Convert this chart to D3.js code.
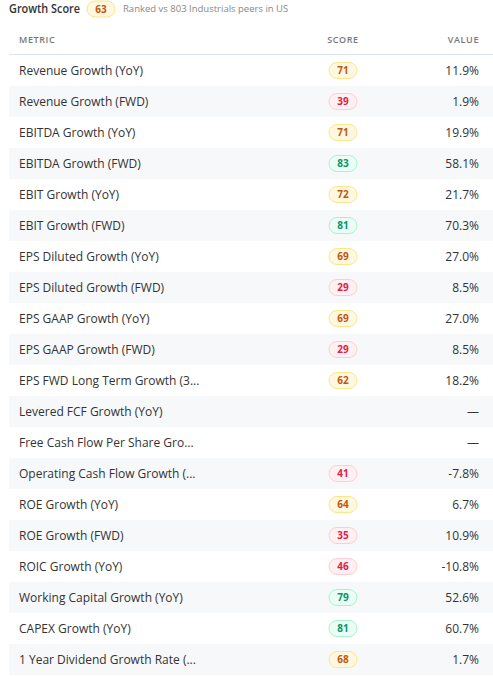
<!DOCTYPE html>
<html><head><meta charset="utf-8">
<script src="https://cdn.jsdelivr.net/npm/d3@7"></script>
<style>body{margin:0;background:#fff;font-family:"Open Sans",sans-serif}</style>
</head><body><svg id="chart" width="493" height="679"></svg>
<script>
const metrics = ["Revenue Growth (YoY)","Revenue Growth (FWD)","EBITDA Growth (YoY)","EBITDA Growth (FWD)","EBIT Growth (YoY)","EBIT Growth (FWD)","EPS Diluted Growth (YoY)","EPS Diluted Growth (FWD)","EPS GAAP Growth (YoY)","EPS GAAP Growth (FWD)","EPS FWD Long Term Growth (3...","Levered FCF Growth (YoY)","Free Cash Flow Per Share Gro...","Operating Cash Flow Growth (...","ROE Growth (YoY)","ROE Growth (FWD)","ROIC Growth (YoY)","Working Capital Growth (YoY)","CAPEX Growth (YoY)","1 Year Dividend Growth Rate (..."];
const scores = [71,39,71,83,72,81,69,29,69,29,62,null,null,41,64,35,46,79,81,68];
const values = ["11.9%","1.9%","19.9%","58.1%","21.7%","70.3%","27.0%","8.5%","27.0%","8.5%","18.2%","—","—","-7.8%","6.7%","10.9%","-10.8%","52.6%","60.7%","1.7%"];
const overallScore = 63;

// badge colours by score band
const badge = s => s >= 75 ? {bg:"#ecfdf5",bd:"#a7f3d0",fg:"#059669"}
  : s >= 50 ? {bg:"#fff8e1",bd:"#fde68a",fg:"#c2570c"}
  : {bg:"#fff1f2",bd:"#fecdd3",fg:"#e11d48"};

const svg = d3.select("#chart");
const y = d3.scaleBand().domain(d3.range(metrics.length)).range([55, 55 + 31*metrics.length]);
const left = 9, right = 493, scoreX = 343, valX = 479;

// title
svg.append("text").attr("x",9).attr("y",13).attr("font-size",12).attr("font-weight",600).attr("fill","#333")
  .attr("textLength",71).attr("lengthAdjust","spacingAndGlyphs").text("Growth Score");
const tb = badge(overallScore);
svg.append("rect").attr("x",87).attr("y",1).attr("width",28).attr("height",16).attr("rx",8).attr("fill",tb.bg).attr("stroke",tb.bd);
svg.append("text").attr("x",101).attr("y",13).attr("text-anchor","middle").attr("font-size",10).attr("font-weight",700).attr("fill",tb.fg).text(overallScore);
svg.append("text").attr("x",123).attr("y",12).attr("font-size",9.5).attr("fill","#888").text("Ranked vs 803 Industrials peers in US");

// header
const hdr = svg.append("g").attr("font-size",9).attr("font-weight",600).attr("fill","#777").attr("letter-spacing","0.6");
hdr.append("text").attr("x",19).attr("y",43).text("METRIC");
hdr.append("text").attr("x",scoreX).attr("y",43).attr("text-anchor","middle").text("SCORE");
hdr.append("text").attr("x",valX).attr("y",43).attr("text-anchor","end").text("VALUE");
svg.append("line").attr("x1",left).attr("x2",right).attr("y1",54.5).attr("y2",54.5).attr("stroke","#dde3ec");

const rows = svg.selectAll("g.row").data(metrics).join("g").attr("class","row")
  .attr("transform",(d,i)=>`translate(0,${y(i)})`);
rows.append("rect").attr("x",left).attr("width",right-left).attr("height",y.bandwidth())
  .attr("fill",(d,i)=> i%2 ? "#f7f8fa" : "#fff");
const mid = y.bandwidth()/2;
rows.append("text").attr("x",19).attr("y",mid+4).attr("font-size",12).attr("fill","#333").text(d=>d);
rows.append("text").attr("x",valX).attr("y",mid+4).attr("text-anchor","end").attr("font-size",12).attr("fill","#333").text((d,i)=>values[i]);
const b = rows.filter((d,i)=>scores[i]!=null);
b.append("rect").attr("x",scoreX-14).attr("y",mid-8).attr("width",28).attr("height",16).attr("rx",8)
  .attr("fill",(d)=>badge(scores[metrics.indexOf(d)]).bg).attr("stroke",(d)=>badge(scores[metrics.indexOf(d)]).bd);
b.append("text").attr("x",scoreX).attr("y",mid+3.5).attr("text-anchor","middle").attr("font-size",10).attr("font-weight",700)
  .attr("fill",(d)=>badge(scores[metrics.indexOf(d)]).fg).text(d=>scores[metrics.indexOf(d)]);
</script></body></html>
